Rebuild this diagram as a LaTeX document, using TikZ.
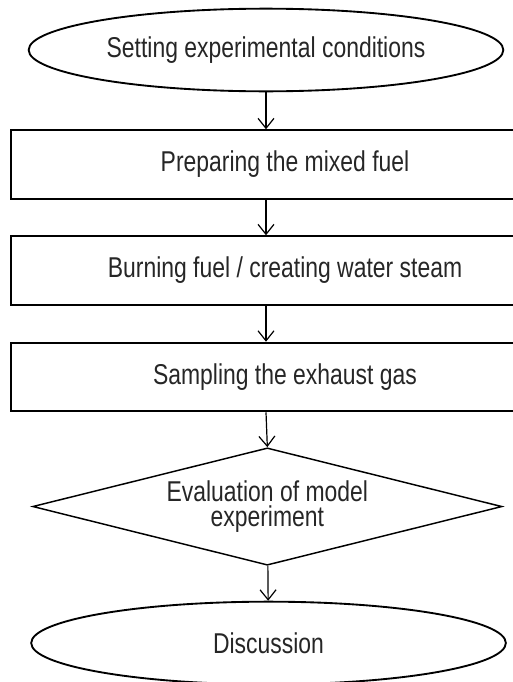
\documentclass[tikz,border=0pt]{standalone}
\usepackage{fontspec}
\setmainfont{Liberation Sans}[FakeStretch=0.8]
\usetikzlibrary{arrows.meta,shapes.geometric}

\begin{document}
\begin{tikzpicture}[x=1pt,y=1pt,
    every node/.style={font=\fontsize{21.5}{19}\selectfont, text=black!85},
    oval/.style={draw, ellipse, line width=1.4pt, minimum width=356pt, minimum height=62pt, inner sep=0pt},
    stepbox/.style={draw, rectangle, line width=1.4pt, minimum width=411pt, minimum height=51.5pt, inner sep=0pt},
    decision/.style={draw, diamond, line width=1.1pt, aspect=4, minimum width=352pt, minimum height=88pt, inner sep=0pt, align=center},
    flow/.style={-{Straight Barb[length=7.5pt,width=12pt]}, line width=0.9pt}]

    \useasboundingbox (0,0) rectangle (384.75,-511.5);

    \node[oval] (start) at (199.5,-37.5) {Setting experimental conditions};
    \node[stepbox] (prep) at (213.75,-123.4) {Preparing the mixed fuel};
    \node[stepbox] (burn) at (213.75,-202.9) {Burning fuel / creating water steam};
    \node[stepbox] (sample) at (213.75,-282.75) {Sampling the exhaust gas};
    \node[decision] (eval) at (200.5,-379.9) {Evaluation of model\\experiment};
    \node[oval] (disc) at (201.4,-482.25) {Discussion};

    \draw[flow] (start) -- (start |- prep.north);
    \draw[flow] (start |- prep.south) -- (start |- burn.north);
    \draw[flow] (start |- burn.south) -- (start |- sample.north);
    \draw[flow] (start |- sample.south) -- (eval.north);
    \draw[flow] (eval) -- (disc);

\end{tikzpicture}
\end{document}
